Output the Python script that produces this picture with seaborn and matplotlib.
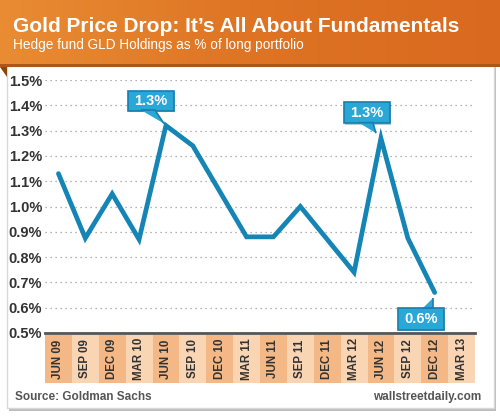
import numpy as np
import pandas as pd
import matplotlib
matplotlib.use("Agg")
import matplotlib.pyplot as plt
import matplotlib.patches as mpatches
from matplotlib import font_manager
from matplotlib.transforms import IdentityTransform
import seaborn as sns

from matplotlib.colors import LinearSegmentedColormap

# ── Data ─────────────────────────────────────────────────────────────────────
quarters = ["JUN 09", "SEP 09", "DEC 09", "MAR 10", "JUN 10", "SEP 10", "DEC 10", "MAR 11",
            "JUN 11", "SEP 11", "DEC 11", "MAR 12", "JUN 12", "SEP 12", "DEC 12", "MAR 13"]
gld_pct = [1.13, 0.875, 1.05, 0.87, 1.32, 1.24, 1.06, 0.88,
           0.88, 1.00, 0.87, 0.74, 1.27, 0.875, 0.66, np.nan]
callout_idx = [4, 12, 14]
callout_text = ["1.3%", "1.3%", "0.6%"]
yticks = [0.5, 0.6, 0.7, 0.8, 0.9, 1.0, 1.1, 1.2, 1.3, 1.4, 1.5]

# ── Style ────────────────────────────────────────────────────────────────────
sns.set_style("white")
names = {f.name for f in font_manager.fontManager.ttflist}
NARROW = ["Liberation Sans Narrow", "Liberation Sans"] if "Liberation Sans Narrow" in names else ["Liberation Sans"]
plt.rcParams["font.family"] = ["Liberation Sans", "DejaVu Sans"]

LINE = "#1485B4"
CALL_FC = "#29A7D7"
CALL_EC = "#1A7DAC"
BAND_DARK = "#F3B885"
BAND_LIGHT = "#FAD5B3"
TXT = "#333333"

W, H = 500, 418
fig = plt.figure(figsize=(W / 100, H / 100), dpi=100)
fig.patch.set_facecolor("white")

def fx(px):
    return px / W

def fy(py):
    return 1 - py / H

# panel with shadow
fig.patches.append(mpatches.Rectangle((fx(9), fy(411)), fx(487), 344 / H, transform=fig.transFigure,
                                      fc="#BDBDBD", ec="none", zorder=-3))
fig.patches.append(mpatches.Rectangle((fx(7), fy(408)), fx(487), 342 / H, transform=fig.transFigure,
                                      fc="white", ec="#D8D8D8", lw=1, zorder=-2))

# header band with gradient
hax = fig.add_axes([0, fy(64), 1, 64 / H])
grad = LinearSegmentedColormap.from_list("hdr", ["#E98C33", "#DE7424", "#D9691F"])
hax.imshow(np.linspace(0, 1, 256)[None, :], aspect="auto", cmap=grad, extent=[0, 1, 0, 1])
hax.set_axis_off()
fig.patches.append(mpatches.Rectangle((0, fy(67)), 1, 3 / H, transform=fig.transFigure,
                                      fc="#A9571C", ec="none", zorder=2))
fig.patches.append(mpatches.Polygon([(0, fy(67)), (fx(7), fy(67)), (fx(7), fy(77))], closed=True,
                                    transform=fig.transFigure, fc="#8A4515", ec="none", zorder=2))

fig.text(fx(13), fy(32), "Gold Price Drop: It\u2019s All About Fundamentals", color="white",
         fontsize=15, fontweight="bold", ha="left", va="baseline")
fig.text(fx(13), fy(49), "Hedge fund GLD Holdings as % of long portfolio", color="white",
         fontsize=9.8, family=NARROW, ha="left", va="baseline")

# ── Main axes ────────────────────────────────────────────────────────────────
ax = fig.add_axes([fx(45), fy(333), fx(430), (333 - 80) / H])
df = pd.DataFrame({"idx": np.arange(len(quarters)), "pct": gld_pct})
sns.lineplot(data=df.dropna(), x="idx", y="pct", ax=ax, color=LINE, lw=3.4,
             solid_joinstyle="miter", zorder=3)
ax.set_xlim(-0.5, len(quarters) - 0.5)
ax.set_ylim(0.5, 1.5)
ax.set_yticks(yticks)
ax.set_yticklabels([f"{v:.1f}%" for v in yticks], family=NARROW, fontweight="bold",
                   fontsize=10.5, color=TXT)
ax.set_xticks([])
ax.set_xlabel("")
ax.set_ylabel("")
ax.tick_params(axis="y", length=0, pad=2)
for v in yticks[1:]:
    ax.axhline(v, color="#9A9A9A", lw=0.9, ls=(0, (1, 3)), zorder=1)
for s in ["top", "right", "left"]:
    ax.spines[s].set_visible(False)
ax.spines["bottom"].set_color("#555555")
ax.spines["bottom"].set_linewidth(2)
ax.patch.set_alpha(0)

# speech-bubble callouts, shapes in pixel offsets from the data point (y up)
bubbles = [
    dict(box=(-38, 15, 46, 20), ptr=[(-25, 15.5), (-11, 15.5), (-2, 2)]),
    dict(box=(-37, 15, 46, 21), ptr=[(-22, 15.5), (-8, 15.5), (-5, 5)]),
    dict(box=(-37, -37, 46, 22), ptr=[(-12, -15.5), (-2, -15.5), (-2, -5)]),
]
for i, t, b in zip(callout_idx, callout_text, bubbles):
    px, py = ax.transData.transform((i, gld_pct[i]))
    bx, by, bw, bh = b["box"]
    shadow = mpatches.Rectangle((px + bx + 1.5, py + by - 1.5), bw, bh, transform=IdentityTransform(),
                                fc="#8FA7B3", ec="none", alpha=0.6, zorder=4)
    box = mpatches.Rectangle((px + bx, py + by), bw, bh, transform=IdentityTransform(),
                             fc=CALL_FC, ec=CALL_EC, lw=1.2, zorder=5)
    ptr = mpatches.Polygon([(px + dx, py + dy) for dx, dy in b["ptr"]], closed=False,
                           transform=IdentityTransform(), fc=CALL_FC, ec=CALL_EC, lw=1.2, zorder=5.5)
    for p in (shadow, box, ptr):
        fig.patches.append(p)
    fig.text(px + bx + bw / 2, py + by + bh / 2 - 0.5, t, transform=IdentityTransform(),
             ha="center", va="center", color="white", fontsize=10.5, fontweight="bold",
             family=NARROW, zorder=6)

# ── Category band axes ───────────────────────────────────────────────────────
bax = fig.add_axes([fx(45), fy(383), fx(430), (383 - 335) / H])
band_colors = [BAND_DARK if k % 2 == 0 else BAND_LIGHT for k in range(len(quarters))]
bax.bar(np.arange(len(quarters)), 1, width=1.0, color=band_colors, edgecolor="none")
bax.set_xlim(-0.5, len(quarters) - 0.5)
bax.set_ylim(0, 1)
for k, q in enumerate(quarters):
    bax.text(k, 0.5, q, rotation=90, ha="center", va="center", color=TXT,
             fontsize=8.3, fontweight="bold", family=NARROW)
bax.set_axis_off()

# ── Footer ───────────────────────────────────────────────────────────────────
fig.text(fx(15), fy(397), "Source: Goldman Sachs", color="#555555", fontsize=8.5,
         fontweight="bold", family=NARROW, ha="left", va="center")
fig.text(fx(481), fy(397), "wallstreetdaily.com", color="#555555", fontsize=8.5,
         fontweight="bold", family=NARROW, ha="right", va="center")

fig.savefig("out.png", dpi=100)
